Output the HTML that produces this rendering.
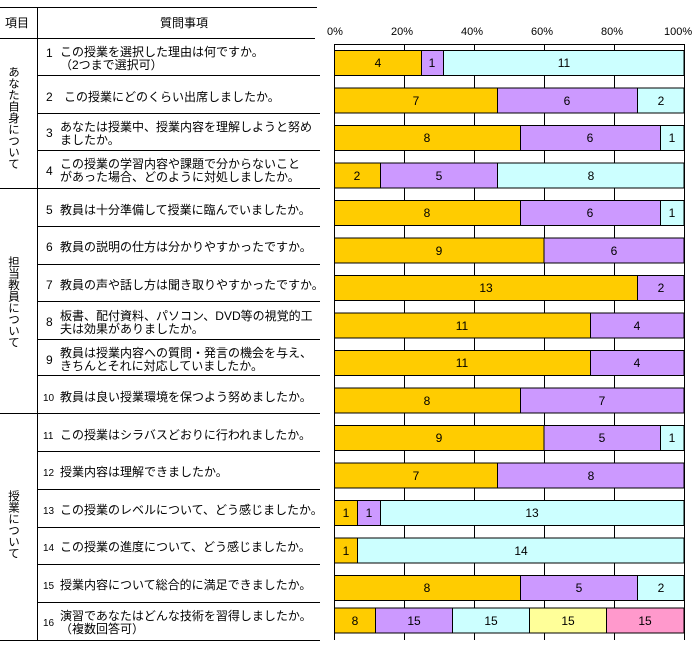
<!DOCTYPE html>
<html><head><meta charset="utf-8"><style>
body{margin:0;background:#fff}
svg{display:block;font-family:"Liberation Sans","Noto Sans CJK JP",sans-serif}
</style></head><body>
<svg width="700" height="649" viewBox="0 0 700 649" xmlns="http://www.w3.org/2000/svg">
<g stroke="#000" stroke-width="1" fill="none">
<line x1="0" y1="7.5" x2="317" y2="7.5"/>
<line x1="0" y1="38.5" x2="315" y2="38.5"/>
<line x1="37.5" y1="7" x2="37.5" y2="640"/>
<line x1="0" y1="188.5" x2="320" y2="188.5"/>
<line x1="0" y1="413.5" x2="320" y2="413.5"/>
<line x1="0" y1="640.5" x2="320" y2="640.5"/>
<line x1="37" y1="75.5" x2="320" y2="75.5"/>
<line x1="37" y1="113.5" x2="320" y2="113.5"/>
<line x1="37" y1="150.5" x2="320" y2="150.5"/>
<line x1="37" y1="226.5" x2="320" y2="226.5"/>
<line x1="37" y1="264.5" x2="320" y2="264.5"/>
<line x1="37" y1="301.5" x2="320" y2="301.5"/>
<line x1="37" y1="339.5" x2="320" y2="339.5"/>
<line x1="37" y1="375.5" x2="320" y2="375.5"/>
<line x1="37" y1="451.5" x2="320" y2="451.5"/>
<line x1="37" y1="489.5" x2="320" y2="489.5"/>
<line x1="37" y1="527.5" x2="320" y2="527.5"/>
<line x1="37" y1="564.5" x2="320" y2="564.5"/>
<line x1="37" y1="602.5" x2="320" y2="602.5"/>
<line x1="334" y1="44.5" x2="684" y2="44.5"/>
<line x1="334.5" y1="44" x2="334.5" y2="640"/>
<line x1="684.5" y1="44" x2="684.5" y2="640"/>
<line x1="404.5" y1="44" x2="404.5" y2="640"/>
<line x1="474.5" y1="44" x2="474.5" y2="640"/>
<line x1="544.5" y1="44" x2="544.5" y2="640"/>
<line x1="614.5" y1="44" x2="614.5" y2="640"/>
</g>
<g font-size="11" fill="#000">
<text x="327" y="35">0%</text><text x="391" y="35">20%</text><text x="461" y="35">40%</text><text x="531" y="35">60%</text><text x="601" y="35">80%</text><text x="664" y="35">100%</text>
</g>
<g font-size="12" fill="#000">
<text x="5" y="27">項目</text>
<text x="160" y="27">質問事項</text>
<text font-size="11.5" x="13" y="66" writing-mode="tb">あなた自身について</text>
<text font-size="11.5" x="13" y="256" writing-mode="tb">担当教員について</text>
<text font-size="11.5" x="13" y="490" writing-mode="tb">授業について</text>
<text x="46" y="57">1</text><text x="60" y="56">この授業を選択した理由は何ですか。</text><text x="60" y="69">（2つまで選択可）</text>
<text x="46" y="101">2</text><text x="64" y="101">この授業にどのくらい出席しましたか。</text>
<text x="46" y="137">3</text><text x="60" y="131">あなたは授業中、授業内容を理解しようと努め</text><text x="60" y="144">ましたか。</text>
<text x="46" y="175">4</text><text x="60" y="168">この授業の学習内容や課題で分からないこと</text><text x="60" y="181">があった場合、どのように対処しましたか。</text>
<text x="46" y="214">5</text><text x="60" y="214">教員は十分準備して授業に臨んでいましたか。</text>
<text x="46" y="251">6</text><text x="60" y="251">教員の説明の仕方は分かりやすかったですか。</text>
<text x="46" y="289">7</text><text x="60" y="289">教員の声や話し方は聞き取りやすかったですか。</text>
<text x="46" y="326">8</text><text x="60" y="320">板書、配付資料、パソコン、DVD等の視覚的工</text><text x="60" y="333">夫は効果がありましたか。</text>
<text x="46" y="364">9</text><text x="60" y="357">教員は授業内容への質問・発言の機会を与え、</text><text x="60" y="370">きちんとそれに対応していましたか。</text>
<text x="43" y="401" font-size="10">10</text><text x="60" y="401">教員は良い授業環境を保つよう努めましたか。</text>
<text x="43" y="439" font-size="10">11</text><text x="60" y="439">この授業はシラバスどおりに行われましたか。</text>
<text x="43" y="476" font-size="10">12</text><text x="60" y="476">授業内容は理解できましたか。</text>
<text x="43" y="514" font-size="10">13</text><text x="60" y="514">この授業のレベルについて、どう感じましたか。</text>
<text x="43" y="551" font-size="10">14</text><text x="60" y="551">この授業の進度について、どう感じましたか。</text>
<text x="43" y="589" font-size="10">15</text><text x="60" y="589">授業内容について総合的に満足できましたか。</text>
<text x="43" y="626" font-size="10">16</text><text x="60" y="620">演習であなたはどんな技術を習得しましたか。</text><text x="60" y="633">（複数回答可）</text>
</g>
<g stroke="#000" stroke-width="1">
<rect x="334.5" y="50.5" width="87" height="25" fill="#FFCC00"/><rect x="421.5" y="50.5" width="22" height="25" fill="#CC99FF"/><rect x="443.5" y="50.5" width="240.5" height="25" fill="#CCFFFF"/>
<rect x="334.5" y="88" width="163" height="25" fill="#FFCC00"/><rect x="497.5" y="88" width="140" height="25" fill="#CC99FF"/><rect x="637.5" y="88" width="46.5" height="25" fill="#CCFFFF"/>
<rect x="334.5" y="125.5" width="186" height="25" fill="#FFCC00"/><rect x="520.5" y="125.5" width="140" height="25" fill="#CC99FF"/><rect x="660.5" y="125.5" width="23.5" height="25" fill="#CCFFFF"/>
<rect x="334.5" y="163" width="46" height="25" fill="#FFCC00"/><rect x="380.5" y="163" width="117" height="25" fill="#CC99FF"/><rect x="497.5" y="163" width="186.5" height="25" fill="#CCFFFF"/>
<rect x="334.5" y="200.5" width="186" height="25" fill="#FFCC00"/><rect x="520.5" y="200.5" width="140" height="25" fill="#CC99FF"/><rect x="660.5" y="200.5" width="23.5" height="25" fill="#CCFFFF"/>
<rect x="334.5" y="238" width="209.5" height="25" fill="#FFCC00"/><rect x="544" y="238" width="140" height="25" fill="#CC99FF"/>
<rect x="334.5" y="275.5" width="303" height="25" fill="#FFCC00"/><rect x="637.5" y="275.5" width="46.5" height="25" fill="#CC99FF"/>
<rect x="334.5" y="313" width="256" height="25" fill="#FFCC00"/><rect x="590.5" y="313" width="93.5" height="25" fill="#CC99FF"/>
<rect x="334.5" y="350.5" width="256" height="25" fill="#FFCC00"/><rect x="590.5" y="350.5" width="93.5" height="25" fill="#CC99FF"/>
<rect x="334.5" y="388" width="186" height="25" fill="#FFCC00"/><rect x="520.5" y="388" width="163.5" height="25" fill="#CC99FF"/>
<rect x="334.5" y="425.5" width="209.5" height="25" fill="#FFCC00"/><rect x="544" y="425.5" width="116.5" height="25" fill="#CC99FF"/><rect x="660.5" y="425.5" width="23.5" height="25" fill="#CCFFFF"/>
<rect x="334.5" y="463" width="163" height="25" fill="#FFCC00"/><rect x="497.5" y="463" width="186.5" height="25" fill="#CC99FF"/>
<rect x="334.5" y="500.5" width="23" height="25" fill="#FFCC00"/><rect x="357.5" y="500.5" width="23" height="25" fill="#CC99FF"/><rect x="380.5" y="500.5" width="303.5" height="25" fill="#CCFFFF"/>
<rect x="334.5" y="538" width="23" height="25" fill="#FFCC00"/><rect x="357.5" y="538" width="326.5" height="25" fill="#CCFFFF"/>
<rect x="334.5" y="575.5" width="186" height="25" fill="#FFCC00"/><rect x="520.5" y="575.5" width="117" height="25" fill="#CC99FF"/><rect x="637.5" y="575.5" width="46.5" height="25" fill="#CCFFFF"/>
<rect x="334.5" y="608" width="41" height="25" fill="#FFCC00"/><rect x="375.5" y="608" width="77" height="25" fill="#CC99FF"/><rect x="452.5" y="608" width="77" height="25" fill="#CCFFFF"/><rect x="529.5" y="608" width="77" height="25" fill="#FFFF99"/><rect x="606.5" y="608" width="77.5" height="25" fill="#FF99CC"/>
</g>
<g font-size="12" fill="#000" text-anchor="middle">
<text x="378" y="67">4</text><text x="432" y="67">1</text><text x="564" y="67">11</text>
<text x="416" y="105">7</text><text x="567" y="105">6</text><text x="661" y="105">2</text>
<text x="427" y="142">8</text><text x="590" y="142">6</text><text x="672" y="142">1</text>
<text x="357" y="180">2</text><text x="439" y="180">5</text><text x="591" y="180">8</text>
<text x="427" y="217">8</text><text x="590" y="217">6</text><text x="672" y="217">1</text>
<text x="439" y="255">9</text><text x="614" y="255">6</text>
<text x="486" y="292">13</text><text x="661" y="292">2</text>
<text x="462" y="330">11</text><text x="637" y="330">4</text>
<text x="462" y="367">11</text><text x="637" y="367">4</text>
<text x="427" y="405">8</text><text x="602" y="405">7</text>
<text x="439" y="442">9</text><text x="602" y="442">5</text><text x="672" y="442">1</text>
<text x="416" y="480">7</text><text x="591" y="480">8</text>
<text x="346" y="517">1</text><text x="369" y="517">1</text><text x="532" y="517">13</text>
<text x="346" y="555">1</text><text x="521" y="555">14</text>
<text x="427" y="592">8</text><text x="579" y="592">5</text><text x="661" y="592">2</text>
<text x="355" y="625">8</text><text x="414" y="625">15</text><text x="491" y="625">15</text><text x="568" y="625">15</text><text x="645" y="625">15</text>
</g>
</svg>
</body></html>
